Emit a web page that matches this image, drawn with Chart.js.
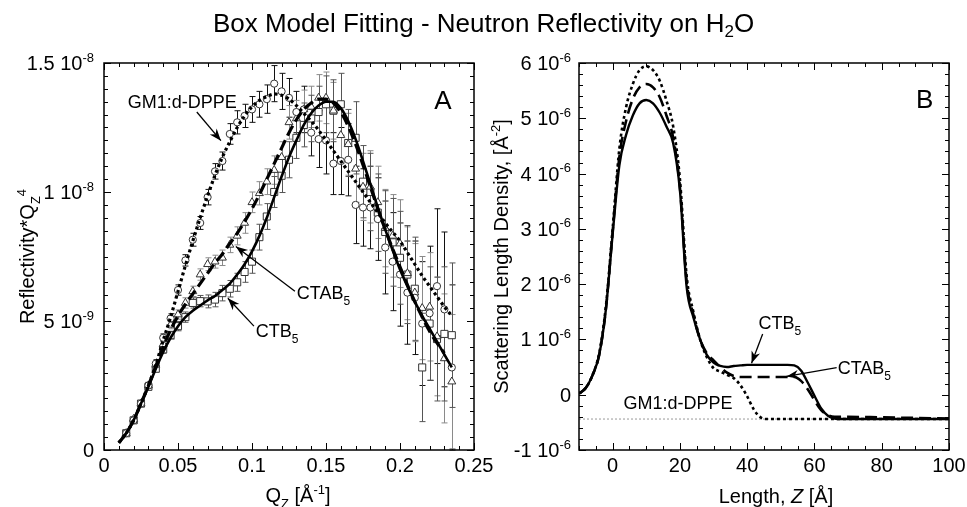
<!DOCTYPE html>
<html><head><meta charset="utf-8">
<script src="https://cdn.jsdelivr.net/npm/chart.js@4.4.1/dist/chart.umd.min.js"></script>
<style>
html,body{margin:0;padding:0;background:#fff;}
#wrap{position:relative;width:967px;height:507px;overflow:hidden;background:#fff;}
#title{position:absolute;left:0;top:8px;width:967px;text-align:center;font-size:26px;line-height:30px;font-family:"Liberation Sans",Arial,Helvetica,sans-serif;color:#000;}
#title sub{font-size:17px;vertical-align:-5px;line-height:0;}
canvas{position:absolute;top:0;}
#cA{left:0;}
#cB{left:483px;}
</style></head><body>
<div id="wrap">
<canvas id="cA" width="505" height="507"></canvas>
<canvas id="cB" width="484" height="507"></canvas>
<div id="title">Box Model Fitting - Neutron Reflectivity on H<sub>2</sub>O</div>
</div>
<script>
// ---------- Panel A: Reflectivity*Qz^4 (values in units of 1e-9) ----------
const qData = [0.015,0.020,0.025,0.030,0.035,0.040,0.045,0.050,0.055,0.060,0.065,0.070,0.075,0.080,0.085,0.090,0.095,0.100,0.105,0.110,0.115,0.120,0.125,0.130,0.135,0.140,0.145,0.150,0.155,0.160,0.165,0.170,0.175,0.180,0.185,0.190,0.195,0.200,0.205,0.210,0.215,0.220,0.225,0.230,0.235];
const gmData = [0.65,1.15,1.8,2.5,3.35,4.35,5.1,6.2,7.35,8.15, 8.8,9.8,10.8,11.2,12.25,12.7,12.95,13.2,13.4,13.6, 14.2,13.9,13.65,13.1,13.2,12.3,12.05,12.0,11.1,11.2, 11.25,9.5,9.4,9.4,8.95,7.85,7.3,6.8,6.1,5.9, 4.9,5.3,6.35,5.45,3.2];
const ctabData = [0.65,1.2,1.8,2.5,3.3,4.1,4.85,5.25,5.7,6.15, 6.8,7.2,7.3,7.45,7.95,8.3,8.8,9.6,9.95,10.4, 10.85,11.35,12.7,12.85,13.2,13.3,13.65,13.65,13.15,12.2, 11.85,10.9,10.2,10.2,9.6,8.6,8.3,8.0,6.85,6.1, 5.5,5.55,4.4,3.55,2.65];
const ctbData = [0.65,1.15,1.8,2.45,3.15,3.9,4.45,4.8,5.15,5.7, 5.77,5.76,5.83,6.08,6.25,6.5,6.9,7.3,8.25,9.05, 10.0,10.63,11.25,12.1,12.6,12.85,13.1,13.4,13.15,13.4, 11.9,12.1,10.4,10.0,9.2,8.45,8.05,7.45,6.8,6.25, 3.2,4.9,4.3,4.5,4.45];
const gmErr = [0.1,0.1,0.12,0.12,0.15,0.15,0.18,0.2,0.22,0.25, 0.25,0.3,0.3,0.35,0.4,0.45,0.45,0.5,0.5,0.55, 0.7,0.7,0.75,0.8,0.9,0.9,1.1,1.3,1.2,1.3, 1.4,1.5,1.5,1.6,1.6,1.8,1.9,2.0,2.0,2.2, 2.4,2.6,3.0,3.0,3.2];
const ctabErr = [0.1,0.1,0.1,0.12,0.12,0.15,0.15,0.18,0.2,0.2, 0.22,0.25,0.25,0.3,0.3,0.35,0.4,0.4,0.45,0.5, 0.55,0.6,0.65,0.7,0.75,0.8,0.9,1.0,1.1,1.1, 1.2,1.3,1.3,1.4,1.4,1.5,1.6,1.7,1.8,1.9, 2.0,2.1,2.3,2.5,2.6];
const ctbErr = [0.1,0.1,0.1,0.12,0.12,0.15,0.15,0.18,0.2,0.2, 0.22,0.25,0.28,0.3,0.32,0.35,0.4,0.45,0.5,0.5, 0.6,0.65,0.7,0.8,0.85,0.9,1.0,1.1,1.2,1.2, 1.3,1.4,1.4,1.5,1.5,1.6,1.7,1.8,1.9,2.0, 2.1,2.2,2.4,2.6,2.8];
const qFit = [0.010,0.015,0.020,0.025,0.030,0.035,0.040,0.045,0.050,0.055,0.060,0.065,0.070,0.075,0.080,0.085,0.090,0.095,0.100,0.105,0.110,0.115,0.120,0.125,0.130,0.135,0.140,0.145,0.150,0.155,0.160,0.165,0.170,0.175,0.180,0.185,0.190,0.195,0.200,0.205,0.210,0.215,0.220,0.225,0.230,0.235];
const gmFit = [0.28,0.65,1.15,1.8,2.5,3.3,4.25,5.15,6.15,7.15, 8.1,9.0,9.85,10.65,11.35,11.95,12.5,12.95,13.3,13.55, 13.7,13.8,13.75,13.6,13.35,13.05,12.75,12.4,12.0,11.6, 11.2,10.8,10.4,10.0,9.6,9.2,8.8,8.45,8.1,7.65, 7.2,6.75,6.35,5.95,5.55,5.2];
const ctabFit = [0.28,0.65,1.15,1.8,2.5,3.25,4.0,4.65,5.2,5.65, 6.05,6.45,6.85,7.25,7.6,8.0,8.4,8.85,9.35,9.9, 10.5,11.1,11.7,12.3,12.8,13.2,13.45,13.6,13.6,13.45, 13.1,12.55,11.85,11.05,10.2,9.35,8.55,7.8,7.1,6.4, 5.75,5.15,4.6,4.15,3.75];
const ctbFit = [0.28,0.65,1.15,1.8,2.45,3.15,3.8,4.35,4.8,5.15, 5.4,5.6,5.8,5.97,6.2,6.45,6.8,7.2,7.7,8.3, 9.0,9.8,10.6,11.35,12.0,12.6,13.05,13.35,13.5,13.5, 13.25,12.75,12.05,11.2,10.3,9.4,8.55,7.75,7.0,6.35, 5.75,5.2,4.7,4.2,3.7,3.2];
const xTicksA = [0, 0.05, 0.1, 0.15, 0.2, 0.25];
const xLabelsA = ['0', '0.05', '0.1', '0.15', '0.2', '0.25'];
const yTicksA = [0, 5, 10, 15];
const yLabelsA = [['0',''], ['5 10','-9'], ['1 10','-8'], ['1.5 10','-8']];

// ---------- Panel B: Scattering length density (values in units of 1e-6) ----------
const zFit = [-10,-8,-6,-4,-2,0,2,4,6,8,10,12,14,16,18,20,22,24,26,28,30,32,34,36,38,40,42,44,46,48,50,52,54,56,58,60,62,64,66,68,70,80,90,100];
const ctbSLD = [0.02,0.12,0.35,0.72,1.55,2.9,4.15,4.7,5.05,5.27, 5.33,5.27,5.1,4.85,4.55,3.7,1.95,1.4,1.0,0.72, 0.58,0.52,0.5,0.52,0.53,0.54,0.54,0.54,0.54,0.54, 0.54,0.54,0.53,0.44,0.22,-0.02,-0.25,-0.38,-0.43,-0.44, -0.44,-0.44,-0.44,-0.44];
const ctabSLD = [0.02,0.12,0.35,0.72,1.55,2.95,4.3,4.95,5.35,5.56, 5.62,5.56,5.38,5.05,4.65,3.75,2.05,1.45,1.0,0.75, 0.62,0.5,0.4,0.34,0.32,0.32,0.32,0.32,0.32,0.32, 0.32,0.32,0.32,0.25,0.1,-0.1,-0.28,-0.37,-0.4,-0.4, -0.4,-0.41,-0.42,-0.43];
const gmSLD = [0.02,0.12,0.35,0.75,1.6,3.0,4.45,5.2,5.62,5.87, 5.94,5.87,5.68,5.32,4.85,3.9,2.15,1.5,1.0,0.68, 0.48,0.42,0.36,0.3,0.17,-0.03,-0.27,-0.41,-0.44,-0.44, -0.44,-0.44,-0.44,-0.44,-0.44,-0.44,-0.44,-0.44,-0.44,-0.44, -0.44,-0.44,-0.44,-0.44];
const waterZ = [-10, 100];
const waterSLD = [-0.44, -0.44];
const xTicksB = [0, 20, 40, 60, 80, 100];
const xLabelsB = ['0', '20', '40', '60', '80', '100'];
const yTicksB = [-1, 0, 1, 2, 3, 4, 5, 6];
const yLabelsB = [['-1 10','-6'], ['0',''], ['1 10','-6'], ['2 10','-6'], ['3 10','-6'], ['4 10','-6'], ['5 10','-6'], ['6 10','-6']];

// ---------- helpers ----------
const FONT = '"Liberation Sans", Arial, Helvetica, sans-serif';
function pts(xs, ys) { return ys.map((y, i) => ({x: xs[i], y: y})); }

function drawRich(ctx, parts, x, y, f, align) {
  let w = 0;
  const items = parts.map(p => {
    const size = p.s ? Math.round(f * 0.66) : f;
    const font = (p.i ? 'italic ' : '') + size + 'px ' + FONT;
    ctx.font = font;
    const wd = ctx.measureText(p.t).width;
    w += wd;
    return {p, font, wd, dy: p.s === 'sup' ? -f * 0.42 : (p.s === 'sub' ? f * 0.3 : 0)};
  });
  let cx = align === 'center' ? x - w / 2 : (align === 'right' ? x - w : x);
  ctx.textAlign = 'left';
  ctx.textBaseline = 'alphabetic';
  items.forEach(it => { ctx.font = it.font; ctx.fillText(it.p.t, cx, y + it.dy); cx += it.wd; });
}

function arrow(ctx, x1, y1, x2, y2) {
  ctx.beginPath(); ctx.moveTo(x1, y1); ctx.lineTo(x2, y2);
  ctx.lineWidth = 1.3; ctx.stroke();
  const a = Math.atan2(y2 - y1, x2 - x1), L = 12, W = 4.5;
  const c = Math.cos(a), s = Math.sin(a);
  ctx.beginPath();
  ctx.moveTo(x2, y2);
  ctx.lineTo(x2 - L * c + W * s, y2 - L * s - W * c);
  ctx.lineTo(x2 - L * 0.7 * c, y2 - L * 0.7 * s);
  ctx.lineTo(x2 - L * c - W * s, y2 - L * s + W * c);
  ctx.closePath(); ctx.fill();
}

const errPlugin = {
  id: 'errbars',
  beforeDatasetsDraw(chart) {
    const ctx = chart.ctx, xs = chart.scales.x, ys = chart.scales.y;
    chart.data.datasets.forEach(ds => {
      if (!ds.errors) return;
      ctx.save();
      ctx.strokeStyle = ds.errColor; ctx.lineWidth = 1;
      ds.data.forEach((p, i) => {
        const e = ds.errors[i];
        const px = Math.round(xs.getPixelForValue(p.x)) + 0.5;
        const y1 = ys.getPixelForValue(p.y - e), y2 = ys.getPixelForValue(p.y + e);
        ctx.beginPath();
        ctx.moveTo(px, y1); ctx.lineTo(px, y2);
        ctx.moveTo(px - 3, y1); ctx.lineTo(px + 3, y1);
        ctx.moveTo(px - 3, y2); ctx.lineTo(px + 3, y2);
        ctx.stroke();
      });
      ctx.restore();
    });
  }
};

function makeFrame(cfg) {
  return {
    id: 'frame' + cfg.key,
    afterDraw(chart) {
      const ctx = chart.ctx, a = chart.chartArea, xs = chart.scales.x, ys = chart.scales.y;
      ctx.save();
      ctx.strokeStyle = '#000'; ctx.fillStyle = '#000';
      ctx.lineWidth = 1.5;
      ctx.strokeRect(a.left, a.top, a.right - a.left, a.bottom - a.top);
      ctx.lineWidth = 1;
      ctx.beginPath();
      const k0 = Math.ceil(xs.min / cfg.xMinor - 1e-6), k1 = Math.floor(xs.max / cfg.xMinor + 1e-6);
      for (let k = k0; k <= k1; k++) {
        const v = k * cfg.xMinor;
        const major = cfg.xMajor.some(m => Math.abs(m - v) < cfg.xMinor * 1e-3);
        const L = major ? 7 : 4;
        const px = Math.round(xs.getPixelForValue(v)) + 0.5;
        ctx.moveTo(px, a.bottom); ctx.lineTo(px, a.bottom - L);
        ctx.moveTo(px, a.top); ctx.lineTo(px, a.top + L);
      }
      const j0 = Math.ceil(ys.min / cfg.yMinor - 1e-6), j1 = Math.floor(ys.max / cfg.yMinor + 1e-6);
      for (let k = j0; k <= j1; k++) {
        const v = k * cfg.yMinor;
        const major = cfg.yMajor.some(m => Math.abs(m - v) < cfg.yMinor * 1e-3);
        const L = major ? 7 : 4;
        const py = Math.round(ys.getPixelForValue(v)) + 0.5;
        ctx.moveTo(a.left, py); ctx.lineTo(a.left + L, py);
        ctx.moveTo(a.right, py); ctx.lineTo(a.right - L, py);
      }
      ctx.stroke();
      // y tick labels with exponents
      cfg.yMajor.forEach((v, i) => {
        const py = ys.getPixelForValue(v);
        const lab = cfg.yLabels[i];
        const parts = [{t: lab[0]}];
        if (lab[1]) parts.push({t: lab[1], s: 'sup'});
        drawRich(ctx, parts, a.left - cfg.yLabelGap, py + 7, 20, 'right');
      });
      // axis titles
      drawRich(ctx, cfg.xTitle, cfg.xTitleX, cfg.xTitleY, 20, 'center');
      ctx.save();
      ctx.translate(cfg.yTitleX, (a.top + a.bottom) / 2);
      ctx.rotate(-Math.PI / 2);
      drawRich(ctx, cfg.yTitle, 0, 7, 20, 'center');
      ctx.restore();
      // annotations (anchored in data coordinates)
      cfg.notes.forEach(n => {
        drawRich(ctx, n.parts, xs.getPixelForValue(n.x), ys.getPixelForValue(n.y), n.size || 18, n.align || 'left');
        if (n.arrow) {
          const r = n.arrow;
          const x1 = xs.getPixelForValue(r[0]), y1 = ys.getPixelForValue(r[1]);
          const x2 = xs.getPixelForValue(r[2]), y2 = ys.getPixelForValue(r[3]);
          arrow(ctx, x1, y1, x2, y2);
        }
      });
      ctx.restore();
    }
  };
}

function xScale(min, max, ticks, labels) {
  return {
    type: 'linear', min: min, max: max,
    grid: {display: false, drawTicks: false}, border: {display: false},
    ticks: {font: {family: FONT, size: 20}, color: '#000', padding: 4, autoSkip: false, maxRotation: 0,
      callback: (v, i) => labels[i]},
    afterBuildTicks: s => { s.ticks = ticks.map(v => ({value: v})); },
    afterFit: s => { s.height = 57; s.paddingLeft = 0; s.paddingRight = 0; }
  };
}
function yScale(min, max, width) {
  return {
    type: 'linear', min: min, max: max,
    grid: {display: false, drawTicks: false}, border: {display: false},
    ticks: {display: false},
    afterFit: s => { s.width = width; s.paddingTop = 0; s.paddingBottom = 0; }
  };
}
function lineDs(label, data, width, dash) {
  return {label, data, showLine: true, pointRadius: 0, borderColor: '#000', backgroundColor: '#000',
    borderWidth: width, borderDash: dash, cubicInterpolationMode: 'monotone', order: 0};
}
function markDs(label, data, style, r, errs, errColor) {
  return {label, data, showLine: false, pointStyle: style, pointRadius: r, borderColor: '#333',
    backgroundColor: '#fff', pointBorderWidth: 1, borderWidth: 1, errors: errs, errColor: errColor, order: 1};
}
const common = {
  responsive: false, devicePixelRatio: 1, animation: false, events: [],
  plugins: {legend: {display: false}, tooltip: {enabled: false}}
};

// ---------- Chart A ----------
new Chart(document.getElementById('cA'), {
  type: 'scatter',
  data: {datasets: [
    lineDs('GM1:d-DPPE fit', pts(qFit, gmFit), 3.2, [3, 3]),
    lineDs('CTAB5 fit', pts(qFit, ctabFit), 3.2, [11, 5]),
    lineDs('CTB5 fit', pts(qFit, ctbFit), 2.6, []),
    markDs('GM1:d-DPPE', pts(qData, gmData), 'circle', 3.6, gmErr, '#111'),
    markDs('CTAB5', pts(qData, ctabData), 'triangle', 4.6, ctabErr, '#8a8a8a'),
    markDs('CTB5', pts(qData, ctbData), 'rect', 5, ctbErr, '#555')
  ]},
  options: Object.assign({}, common, {
    layout: {padding: {left: 0, right: 31, top: 63, bottom: 0}},
    scales: {x: xScale(0, 0.25, xTicksA, xLabelsA), y: yScale(0, 15, 104)}
  }),
  plugins: [errPlugin, makeFrame({
    key: 'A', xMinor: 0.01, xMajor: xTicksA, yMinor: 0.5, yMajor: yTicksA, yLabels: yLabelsA, yLabelGap: 10,
    xTitle: [{t: 'Q'}, {t: 'Z', s: 'sub'}, {t: ' [Å'}, {t: '-1', s: 'sup'}, {t: ']'}], xTitleX: 298, xTitleY: 502,
    yTitle: [{t: 'Reflectivity*Q'}, {t: 'Z', s: 'sub'}, {t: '4', s: 'sup'}], yTitleX: 27,
    notes: [
      {parts: [{t: 'GM1:d-DPPE'}], x: 0.016, y: 13.26, arrow: [0.0627, 13.1, 0.079, 11.99]},
      {parts: [{t: 'CTAB'}, {t: '5', s: 'sub'}], x: 0.1303, y: 5.84, arrow: [0.129, 6.15, 0.0891, 7.89]},
      {parts: [{t: 'CTB'}, {t: '5', s: 'sub'}], x: 0.1026, y: 4.37, arrow: [0.1013, 4.8, 0.0837, 5.88]},
      {parts: [{t: 'A'}], x: 0.229, y: 13.22, size: 26, align: 'center'}
    ]
  })]
});

// ---------- Chart B ----------
new Chart(document.getElementById('cB'), {
  type: 'scatter',
  data: {datasets: [
    Object.assign(lineDs('H2O level', pts(waterZ, waterSLD), 1, [2, 2]), {borderColor: '#999', order: 3}),
    lineDs('GM1:d-DPPE', pts(zFit, gmSLD), 2.6, [3, 3]),
    lineDs('CTAB5', pts(zFit, ctabSLD), 2.6, [12, 6]),
    lineDs('CTB5', pts(zFit, ctbSLD), 2.4, [])
  ]},
  options: Object.assign({}, common, {
    layout: {padding: {left: 0, right: 18, top: 63, bottom: 0}},
    scales: {x: xScale(-10, 100, xTicksB, xLabelsB), y: yScale(-1, 6, 96)}
  }),
  plugins: [makeFrame({
    key: 'B', xMinor: 5, xMajor: xTicksB, yMinor: 0.2, yMajor: yTicksB, yLabels: yLabelsB, yLabelGap: 8,
    xTitle: [{t: 'Length, '}, {t: 'Z', i: true}, {t: ' [Å]'}], xTitleX: 293, xTitleY: 503,
    yTitle: [{t: 'Scattering Length Density, [Å'}, {t: '-2', s: 'sup'}, {t: ']'}], yTitleX: 18,
    notes: [
      {parts: [{t: 'CTB'}, {t: '5', s: 'sub'}], x: 43.4, y: 1.18, arrow: [44.6, 1.1, 41.3, 0.57]},
      {parts: [{t: 'CTAB'}, {t: '5', s: 'sub'}], x: 66.9, y: 0.37, arrow: [66.6, 0.49, 51.7, 0.33]},
      {parts: [{t: 'GM1:d-DPPE'}], x: 3.2, y: -0.25},
      {parts: [{t: 'B'}], x: 92.8, y: 5.18, size: 26, align: 'center'}
    ]
  })]
});
</script>
</body></html>
